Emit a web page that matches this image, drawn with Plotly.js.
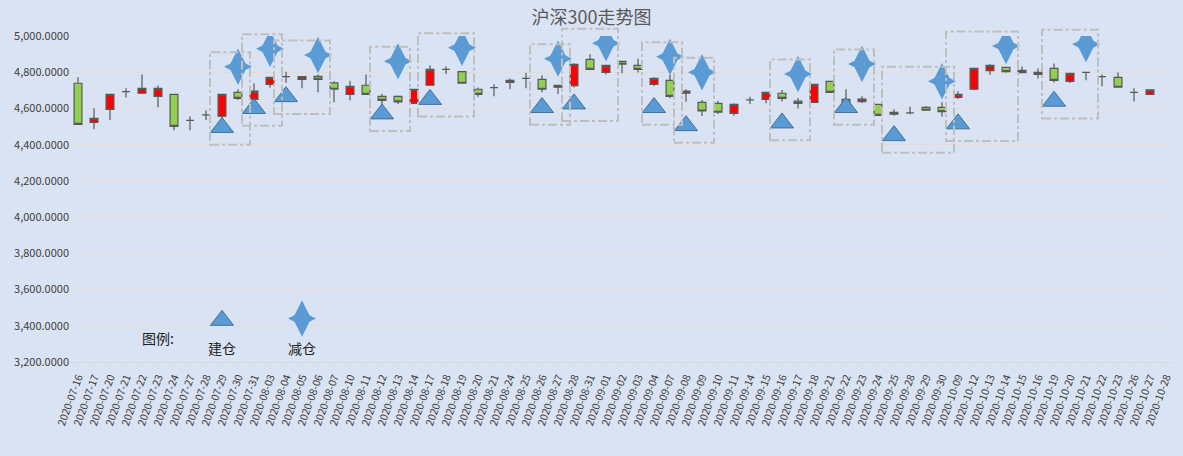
<!DOCTYPE html>
<html><head><meta charset="utf-8">
<script src="https://cdn.plot.ly/plotly-3.0.1.min.js"></script>
<style>body{margin:0;background:#DAE3F3}#chart{width:1183px;height:456px}</style>
</head><body><div id="chart"></div>
<script>
// 日期
const dates = ['2020-07-16','2020-07-17','2020-07-20','2020-07-21','2020-07-22','2020-07-23','2020-07-24','2020-07-27','2020-07-28','2020-07-29','2020-07-30','2020-07-31',
 '2020-08-03','2020-08-04','2020-08-05','2020-08-06','2020-08-07','2020-08-10','2020-08-11','2020-08-12','2020-08-13','2020-08-14','2020-08-17','2020-08-18','2020-08-19','2020-08-20','2020-08-21','2020-08-24','2020-08-25','2020-08-26','2020-08-27','2020-08-28','2020-08-31',
 '2020-09-01','2020-09-02','2020-09-03','2020-09-04','2020-09-07','2020-09-08','2020-09-09','2020-09-10','2020-09-11','2020-09-14','2020-09-15','2020-09-16','2020-09-17','2020-09-18','2020-09-21','2020-09-22','2020-09-23','2020-09-24','2020-09-25','2020-09-28','2020-09-29','2020-09-30',
 '2020-10-09','2020-10-12','2020-10-13','2020-10-14','2020-10-15','2020-10-16','2020-10-19','2020-10-20','2020-10-21','2020-10-22','2020-10-23','2020-10-26','2020-10-27','2020-10-28'];

const openP  = [4739,4523,4595,4693,4684,4667,4678,4534,4564,4557,4689,4650,4733,4776,4761,4777,4741,4678,4728,4667,4667,4628,4728,4816,4803,4706,4715,4744,4766,4761,4717,4726,4871,4799,4860,4838,4733,4755,4684,4634,4628,4573,4647,4650,4684,4641,4634,4750,4650,4637,4623,4579,4575,4606,4606,4661,4706,4809,4827,4810,4799,4821,4750,4799,4776,4772,4689,4678,null];
const closeP = [4512,4545,4678,4693,4711,4711,4501,4534,4564,4678,4656,4696,4772,4776,4776,4761,4706,4722,4678,4645,4636,4706,4816,4816,4739,4678,4715,4755,4766,4706,4728,4844,4816,4838,4844,4816,4766,4667,4696,4586,4579,4623,4647,4689,4656,4628,4733,4689,4634,4652,4562,4568,4575,4590,4582,4678,4821,4838,4803,4798,4788,4755,4794,4799,4776,4717,4689,4702,null];
const highP  = [4772,4601,4678,4711,4788,4726,4680,4555,4588,4678,4706,4739,4772,4803,4778,4788,4750,4753,4788,4680,4672,4706,4838,4831,4803,4715,4733,4766,4797,4783,4728,4850,4899,4838,4850,4874,4772,4788,4706,4647,4641,4628,4665,4689,4702,4658,4733,4750,4706,4667,4623,4595,4610,4613,4634,4695,4821,4844,4827,4831,4820,4848,4794,4799,4788,4799,4711,4706,null];
const lowP   = [4512,4485,4536,4661,4680,4606,4479,4479,4536,4530,4647,4623,4715,4742,4711,4689,4634,4645,4678,4562,4625,4628,4728,4790,4739,4664,4668,4706,4711,4689,4680,4715,4816,4788,4794,4799,4724,4656,4637,4558,4570,4560,4625,4628,4638,4600,4634,4689,4623,4630,4562,4560,4568,4587,4554,4652,4700,4786,4797,4796,4766,4743,4740,4755,4722,4717,4639,4676,null];

// 建仓 / 减仓 标记
const buildIdx  = [9,11,13,19,22,29,31,36,38,44,48,51,55,61];
const buildY    = [4495,4600,4665,4570,4650,4605,4625,4605,4505,4520,4605,4450,4515,4640];
const reduceIdx = [10,12,15,20,24,30,33,37,39,45,49,54,58,63];
const reduceY   = [4830,4930,4895,4860,4935,4875,4960,4885,4800,4790,4845,4750,4945,4955];

const legendText = ['图例:','建仓','减仓'];
const yMin = 3200, yMax = 5000;

const blue = '#5B9BD5';
function starTraces(xs, ys) {
  // 细长四角星: 竖向窄菱形 + 横向窄菱形 + 小星
  return [
    {type:'scatter', mode:'markers', x:xs, y:ys, hoverinfo:'skip', showlegend:false,
     marker:{symbol:'diamond-tall', size:26, color:blue, line:{width:0}}},
    {type:'scatter', mode:'markers', x:xs, y:ys, hoverinfo:'skip', showlegend:false,
     marker:{symbol:'diamond-wide', size:20, color:blue, line:{width:0}}},
    {type:'scatter', mode:'markers', x:xs, y:ys, hoverinfo:'skip', showlegend:false,
     marker:{symbol:'star-diamond', size:13, color:blue, line:{width:0}}}
  ];
}
const tri = {symbol:'triangle-up', size:20, color:blue, line:{color:'#41719C',width:1}};
const traces = [
  {type:'candlestick', x:dates, open:openP, high:highP, low:lowP, close:closeP,
   increasing:{line:{color:'#595959',width:1.2}, fillcolor:'#FF0000'},
   decreasing:{line:{color:'#595959',width:1.2}, fillcolor:'#92D050'},
   whiskerwidth:0, hoverinfo:'x+y', showlegend:false},
  {type:'scatter', mode:'markers', x:buildIdx.map(i=>dates[i]), y:buildY, marker:tri, showlegend:false},
  ...starTraces(reduceIdx.map(i=>dates[i]), reduceY),
  {type:'scatter', mode:'markers', x:[dates[9]], y:[3430], marker:tri, showlegend:false},
  ...starTraces([dates[14]], [3440])
];

// 虚线框
const toPaper = v => (v - yMin) / (yMax - yMin);
const shapes = buildIdx.map((b, k) => {
  const lo = Math.min(buildY[k], reduceY[k]) - 95;
  const hi = Math.max(buildY[k], reduceY[k]) + 80;
  return {type:'rect', xref:'x', yref:'paper', x0:b - 0.75, x1:reduceIdx[k] + 0.75,
    y0:toPaper(lo), y1:toPaper(hi), line:{color:'#BFBFBF', width:2, dash:'dashdot'}};
});

const annotations = [
  {x:dates[5], y:3330, text:legendText[0], showarrow:false, font:{size:14,color:'#222'}},
  {x:dates[9], y:3280, text:legendText[1], showarrow:false, font:{size:14,color:'#222'}},
  {x:dates[14], y:3280, text:legendText[2], showarrow:false, font:{size:14,color:'#222'}}
];

const layout = {
  width:1183, height:456,
  paper_bgcolor:'#DAE3F3', plot_bgcolor:'#DAE3F3',
  margin:{l:70, r:9, t:36, b:94},
  font:{family:'"Noto Sans CJK SC", "Liberation Sans", sans-serif', color:'#404040'},
  title:{text:'沪深300走势图', font:{size:18, color:'#595959', family:'"Noto Sans CJK SC", serif'}, x:0.5, y:0.975, yanchor:'top'},
  xaxis:{type:'category', rangeslider:{visible:false}, tickangle:-70, tickfont:{size:10.5},
    showgrid:false, showline:true, linecolor:'#D9D9D9', ticks:'outside', ticklen:4, tickcolor:'#D9D9D9',
    range:[-0.5, dates.length - 0.5]},
  yaxis:{range:[yMin, yMax], dtick:200, tickformat:',.4f', tickfont:{size:11},
    gridcolor:'#E3DDD3', zeroline:false},
  shapes:shapes, annotations:annotations, hovermode:false
};

Plotly.newPlot('chart', traces, layout, {displayModeBar:false});
</script>
</body></html>
